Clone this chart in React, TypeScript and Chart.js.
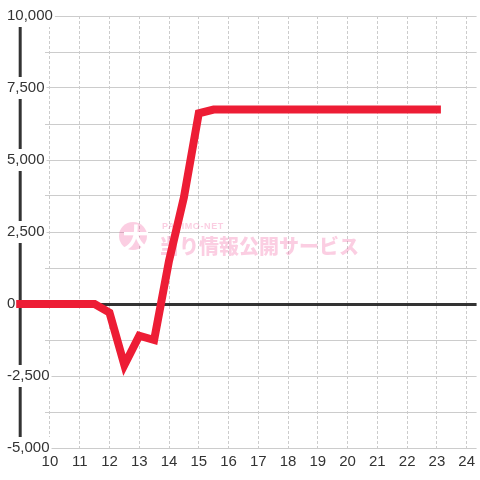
import React, { useEffect, useRef } from 'react';
import { Chart, registerables } from 'chart.js';

Chart.register(...registerables);

// Data (hour of day -> balance)
const hours = [9, 9.5, 10, 10.5, 11, 11.5, 12, 12.5, 13, 13.5, 14, 14.5, 15, 15.5, 16, 16.5, 17, 17.5, 18, 18.5, 19, 19.5, 20, 20.5, 21, 21.5, 22, 22.5, 23];
const values = [0, 0, 0, 0, 0, 0, -300, -2120, -1100, -1250, 1500, 3700, 6620, 6750, 6750, 6750, 6750, 6750, 6750, 6750, 6750, 6750, 6750, 6750, 6750, 6750, 6750, 6750, 6750];

const xTicks = [10, 11, 12, 13, 14, 15, 16, 17, 18, 19, 20, 21, 22, 23, 24];
const yTicks = [-5000, -3750, -2500, -1250, 0, 1250, 2500, 3750, 5000, 6250, 7500, 8750, 10000];
const yLabelStep = 2500;
const axisValue = 9;
const xMin = 9.8333;
const xMax = 24.3333;
const yMin = -5000;
const yMax = 10000;

const watermarkTop = 'PAPIMO-NET';
const watermarkMain = '当り情報公開サービス';
const watermarkIcon = '大';

const FONT = '"Liberation Sans", Arial, sans-serif';

const axisLinePlugin = {
  id: 'axisLine',
  beforeDraw(chart: any) {
    const { ctx, chartArea, scales } = chart;
    const x = scales.x.getPixelForValue(axisValue);
    ctx.save();
    ctx.strokeStyle = '#333333';
    ctx.lineWidth = 3;
    ctx.beginPath();
    ctx.moveTo(x, chartArea.top);
    ctx.lineTo(x, chartArea.bottom);
    ctx.stroke();
    ctx.restore();
  },
};

const watermarkPlugin = {
  id: 'watermark',
  beforeDatasetsDraw(chart: any) {
    const { ctx, chartArea } = chart;
    const ox = chartArea.left;
    const oy = chartArea.top;
    ctx.save();
    const pink = 'rgba(240, 80, 150, 0.28)';
    ctx.fillStyle = pink;
    ctx.beginPath();
    ctx.arc(ox + 88, oy + 220, 14, 0, Math.PI * 2);
    ctx.fill();
    ctx.fillStyle = '#ffffff';
    ctx.font = `bold 27px "Noto Sans CJK JP", sans-serif`;
    ctx.textAlign = 'center';
    ctx.textBaseline = 'middle';
    ctx.fillText(watermarkIcon, ox + 91, oy + 222);
    ctx.fillStyle = pink;
    ctx.textAlign = 'left';
    ctx.font = `bold 9px ${FONT}`;
    (ctx as any).letterSpacing = '0.6px';
    ctx.fillText(watermarkTop, ox + 117, oy + 211);
    (ctx as any).letterSpacing = '0px';
    ctx.font = `900 20px "Noto Sans CJK JP", sans-serif`;
    ctx.fillText(watermarkMain, ox + 114, oy + 230);
    ctx.restore();
  },
};

export default function App() {
  const ref = useRef<HTMLCanvasElement | null>(null);

  useEffect(() => {
    if (!ref.current) return;
    const chart = new Chart(ref.current, {
      type: 'line',
      data: {
        datasets: [
          {
            data: hours.map((h, i) => ({ x: h, y: values[i] })),
            borderColor: 'rgb(237, 29, 53)',
            borderWidth: 8,
            borderCapStyle: 'square',
            borderJoinStyle: 'miter',
            pointRadius: 0,
            tension: 0,
            fill: false,
            clip: false as any,
          },
        ],
      },
      options: {
        animation: false,
        responsive: false,
        layout: { padding: { left: 0, top: 16, right: 0, bottom: 0 } },
        plugins: { legend: { display: false }, tooltip: { enabled: false } },
        scales: {
          x: {
            type: 'linear',
            bounds: 'data',
            afterDataLimits: (scale: any) => {
              scale.min = xMin;
              scale.max = xMax;
            },
            afterBuildTicks: (scale: any) => {
              scale.ticks = xTicks.map((v) => ({ value: v }));
            },
            afterFit: (scale: any) => {
              scale.height = 32;
            },
            border: { display: false, dash: [3, 2] },
            grid: {
              color: '#cccccc',
              lineWidth: 1,
              drawTicks: false,
            },
            ticks: {
              color: '#333333',
              font: { family: FONT, size: 15 },
              padding: 5,
              maxRotation: 0,
              autoSkip: false,
              z: 1,
              callback: (v: any) => String(v),
            },
          },
          y: {
            type: 'linear',
            min: yMin,
            max: yMax,
            afterBuildTicks: (scale: any) => {
              scale.ticks = yTicks.map((v) => ({ value: v }));
            },
            afterFit: (scale: any) => {
              scale.width = 45;
            },
            border: { display: false },
            grid: {
              color: (c: any) => (c.tick && c.tick.value === 0 ? '#333333' : '#cccccc'),
              lineWidth: (c: any) => (c.tick && c.tick.value === 0 ? 3 : 1),
              drawTicks: false,
            },
            ticks: {
              color: '#333333',
              font: { family: FONT, size: 15 },
              mirror: true,
              padding: -38,
              autoSkip: false,
              showLabelBackdrop: true,
              backdropPadding: 2,
              backdropColor: (c: any) =>
                c.tick && c.tick.value % yLabelStep === 0 ? '#ffffff' : 'rgba(0,0,0,0)',
              callback: (v: any) =>
                Number(v) % yLabelStep === 0 ? Number(v).toLocaleString('en-US') : '',
            },
          },
        },
      },
      plugins: [axisLinePlugin, watermarkPlugin],
    } as any);
    return () => chart.destroy();
  }, []);

  return (
    <div style={{ position: 'fixed', left: 0, top: 0, width: 480, height: 480, background: '#fff' }}>
      <canvas ref={ref} width={480} height={480} style={{ width: 480, height: 480 }} />
    </div>
  );
}
